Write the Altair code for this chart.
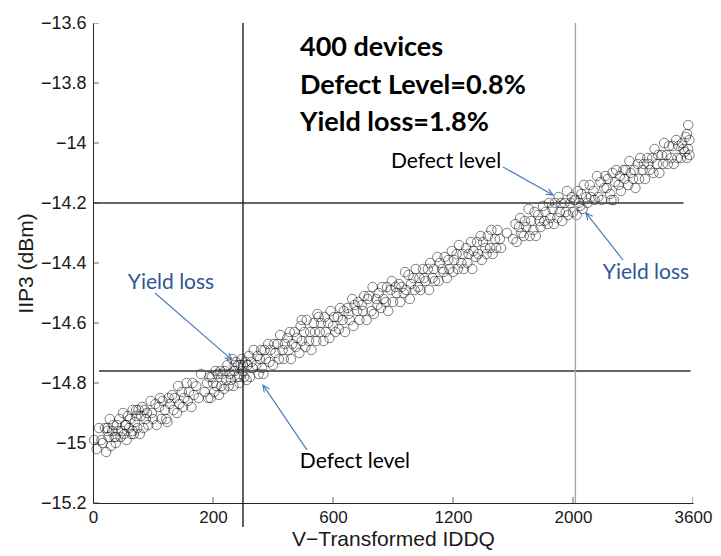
import math
import altair as alt
import pandas as pd

# Transformed-IDDQ axis: equally spaced positions carrying the IDDQ labels
x_tick_pos = [0, 1, 2, 3, 4, 5]
x_tick_labels = ["0", "200", "600", "1200", "2000", "3600"]
y_tick_values = [-15.2, -15.0, -14.8, -14.6, -14.4, -14.2, -14.0, -13.8, -13.6]

# Measured devices: position on the transformed IDDQ axis and IIP3 (dBm)
iddq_t = [
    0.01, 0.03, 0.05, 0.07, 0.08, 0.10, 0.11, 0.12, 0.13, 0.14,
    0.15, 0.16, 0.17, 0.18, 0.19, 0.20, 0.21, 0.22, 0.23, 0.24,
    0.25, 0.26, 0.27, 0.28, 0.29,
    0.30, 0.31, 0.32, 0.33, 0.34, 0.35, 0.36, 0.37, 0.38, 0.39,
    0.40, 0.41, 0.42, 0.43, 0.44, 0.45, 0.46, 0.48, 0.49, 0.50,
    0.52, 0.53, 0.55, 0.56, 0.57, 0.58, 0.60, 0.61, 0.63, 0.64,
    0.62, 0.66, 0.67, 0.68, 0.70, 0.71, 0.72, 0.74, 0.75, 0.76,
    0.78, 0.79, 0.80, 0.82, 0.83, 0.84, 0.86, 0.88, 0.90, 0.93,
    0.95, 0.96, 0.97, 0.98, 0.99,
    1.00, 1.01, 1.02, 1.03, 1.04, 1.05, 1.06, 1.07, 1.08, 1.09,
    1.10, 1.11, 1.12, 1.13, 1.14, 1.15, 1.16, 1.17, 1.18, 1.19,
    1.20, 1.21, 1.22, 1.23, 1.24, 1.245, 1.26, 1.27, 1.28, 1.29,
    1.30, 1.31, 1.32, 1.33, 1.34, 1.36, 1.37, 1.38, 1.39, 1.40,
    1.41, 1.42, 1.43, 1.44, 1.46, 1.47, 1.48, 1.50, 1.51, 1.52,
    1.54, 1.55, 1.56, 1.58, 1.59, 1.60, 1.62, 1.63, 1.64, 1.65,
    1.66, 1.68, 1.69, 1.70, 1.72, 1.73, 1.74, 1.76, 1.77, 1.78,
    1.80, 1.81, 1.82, 1.84, 1.85, 1.86, 1.88, 1.89, 1.90, 1.92,
    1.93, 1.94, 1.96, 1.97, 1.98, 2.00, 2.01, 2.02, 1.74, 1.87,
    2.04, 2.05, 2.06, 2.08, 2.09, 2.10, 2.12, 2.13, 2.14, 2.16,
    2.17, 2.18, 2.20, 2.21, 2.22, 2.24, 2.25, 2.26, 2.28, 2.29,
    2.30, 2.32, 2.33, 2.34, 2.36, 2.37, 2.38, 2.40, 2.41, 2.42,
    2.44, 2.45, 2.46, 2.48, 2.49, 2.50, 2.52, 2.53,
    2.55, 2.56, 2.57, 2.59, 2.60, 2.61, 2.63, 2.64, 2.65, 2.67,
    2.68, 2.69, 2.71, 2.72, 2.73, 2.75, 2.76, 2.77, 2.79, 2.80,
    2.81, 2.83, 2.84, 2.85, 2.87, 2.88, 2.89, 2.91, 2.92, 2.93,
    2.95, 2.96, 2.97, 2.99, 3.00, 3.01,
    3.03, 3.04, 3.05, 3.07, 3.08, 3.09, 3.11, 3.12, 3.13, 3.15,
    3.16, 3.17, 3.19, 3.20, 3.21, 3.23, 3.24, 3.25, 3.27, 3.28,
    3.29, 3.31, 3.32, 3.33, 3.35, 3.36, 3.37, 3.39, 3.40, 3.45,
    3.50, 3.52, 3.53, 3.55, 3.56, 3.57, 3.59, 3.60, 3.61, 3.63,
    3.64, 3.65, 3.67, 3.68, 3.69, 3.71, 3.72, 3.73, 3.75, 3.76,
    3.77, 3.79, 3.80, 3.81, 3.83, 3.84, 3.85, 3.87,
    3.88, 3.89, 3.90, 3.91, 3.93, 3.94, 3.95, 3.96, 3.98, 3.99,
    4.00, 4.01, 4.03, 4.04, 4.05, 4.07, 4.08, 4.09, 4.11, 4.12,
    4.14, 4.15, 4.17, 4.18, 4.20, 4.21, 4.23, 4.24, 4.26, 4.27,
    4.28, 4.29, 4.31, 4.32, 4.33, 4.34, 4.35, 4.36, 4.38, 4.39,
    4.40, 4.42, 4.43, 4.44, 4.46, 4.47, 4.48, 4.50, 4.51, 4.52,
    4.54, 4.55, 4.56, 4.58, 4.59, 4.60, 4.62, 4.63, 4.64, 4.66,
    4.67, 4.68, 4.70, 4.71, 4.72, 4.74, 4.75, 4.76, 4.78, 4.79,
    4.80, 4.82, 4.83, 4.84, 4.86, 4.87, 4.88, 4.90, 4.91, 4.92,
    4.93, 4.94, 4.95, 4.96, 4.96, 4.97, 4.97, 4.95,
    0.12, 0.19, 0.27, 0.33, 0.36, 1.18, 1.22, 1.25, 4.02, 4.06,
]
iip3 = [
    -14.99, -15.02, -14.95, -14.99, -15.00, -14.95, -15.03, -14.96, -14.98, -14.92,
    -15.01, -14.96, -14.94, -14.98, -15.00, -14.94, -14.96, -14.92, -14.98, -14.96,
    -14.90, -14.97, -14.94, -14.99, -14.91,
    -14.95, -14.92, -14.97, -14.89, -14.97, -14.93, -14.91, -14.95, -14.89, -14.97,
    -14.91, -14.88, -14.95, -14.89, -14.92, -14.90, -14.94, -14.86, -14.90, -14.92,
    -14.87, -14.94, -14.88, -14.85, -14.92, -14.86, -14.89, -14.92, -14.85, -14.87,
    -14.93, -14.84, -14.89, -14.85, -14.90, -14.81, -14.87, -14.83, -14.88, -14.85,
    -14.80, -14.86, -14.83, -14.88, -14.80, -14.84, -14.81, -14.85, -14.77, -14.83,
    -14.80, -14.85, -14.78, -14.85, -14.78,
    -14.80, -14.83, -14.76, -14.81, -14.77, -14.84, -14.76, -14.81, -14.77, -14.82,
    -14.76, -14.79, -14.74, -14.81, -14.77, -14.79, -14.72, -14.81, -14.76, -14.73,
    -14.78, -14.74, -14.80, -14.74, -14.72, -14.76, -14.78, -14.73, -14.79, -14.74,
    -14.71, -14.78, -14.73, -14.75, -14.69, -14.74, -14.71, -14.77, -14.72, -14.69,
    -14.75, -14.77, -14.69, -14.72, -14.67, -14.73, -14.69, -14.74, -14.67, -14.70,
    -14.67, -14.72, -14.64, -14.69, -14.72, -14.67, -14.65, -14.69, -14.63, -14.72,
    -14.67, -14.63, -14.68, -14.65, -14.70, -14.61, -14.66, -14.63, -14.68, -14.59,
    -14.66, -14.63, -14.69, -14.60, -14.63, -14.66, -14.58, -14.63, -14.60, -14.66,
    -14.58, -14.63, -14.60, -14.65, -14.56, -14.61, -14.58, -14.63, -14.59, -14.57,
    -14.58, -14.62, -14.55, -14.59, -14.56, -14.63, -14.55, -14.57, -14.59, -14.52,
    -14.61, -14.54, -14.56, -14.53, -14.59, -14.54, -14.56, -14.51, -14.59, -14.52,
    -14.51, -14.56, -14.48, -14.57, -14.52, -14.54, -14.50, -14.55, -14.48, -14.52,
    -14.53, -14.48, -14.56, -14.49, -14.46, -14.53, -14.48, -14.50,
    -14.47, -14.53, -14.48, -14.50, -14.43, -14.49, -14.44, -14.52, -14.47, -14.45,
    -14.49, -14.42, -14.48, -14.45, -14.49, -14.42, -14.45, -14.46, -14.42, -14.49,
    -14.40, -14.45, -14.42, -14.46, -14.38, -14.46, -14.40, -14.42, -14.43, -14.38,
    -14.45, -14.39, -14.42, -14.36, -14.43, -14.39,
    -14.37, -14.42, -14.34, -14.40, -14.37, -14.42, -14.35, -14.40, -14.37, -14.33,
    -14.42, -14.36, -14.38, -14.33, -14.37, -14.31, -14.39, -14.33, -14.35, -14.37,
    -14.31, -14.35, -14.29, -14.37, -14.32, -14.35, -14.29, -14.32, -14.35, -14.30,
    -14.32, -14.27, -14.33, -14.28, -14.25, -14.30, -14.31, -14.26, -14.28, -14.22,
    -14.31, -14.26, -14.29, -14.23, -14.31, -14.24, -14.26, -14.28, -14.21, -14.26,
    -14.23, -14.27, -14.20, -14.25, -14.22, -14.27, -14.20, -14.25,
    -14.18, -14.23, -14.20, -14.26, -14.20, -14.23, -14.16, -14.24, -14.20, -14.18,
    -14.23, -14.19, -14.24, -14.16, -14.20, -14.17, -14.22, -14.14, -14.18, -14.20,
    -14.14, -14.18, -14.16, -14.19, -14.11, -14.18, -14.13, -14.19, -14.15, -14.11,
    -14.15, -14.12, -14.17, -14.19, -14.10, -14.19, -14.13, -14.09, -14.14, -14.11,
    -14.16, -14.09, -14.12, -14.09, -14.14, -14.06, -14.10, -14.12, -14.09, -14.15,
    -14.07, -14.12, -14.05, -14.09, -14.07, -14.12, -14.05, -14.07, -14.09, -14.05,
    -14.10, -14.02, -14.07, -14.04, -14.10, -14.04, -14.07, -14.00, -14.04, -14.07,
    -14.01, -14.05, -14.01, -14.07, -13.99, -14.05, -14.01, -14.05, -14.00, -14.02,
    -14.03, -13.98, -14.05, -13.94, -14.02, -13.99, -14.04, -13.97,
    -14.95, -14.98, -14.94, -14.96, -14.89, -14.74, -14.78, -14.74, -14.19, -14.21,
]
assert len(iddq_t) == len(iip3)

# Test limits: IDDQ thresholds (vertical) and IIP3 spec limits (horizontal)
iddq_limits = [1.25, 4.02]
iddq_limit_ends = [-15.28, -15.2]
iddq_limit_colors = ["#1e1e1e", "#a8a8a8"]
iip3_limits = [-14.2, -14.76]
iip3_limit_start = [0.0, 0.05]
iip3_limit_end = [4.92, 4.98]

summary_lines = ["400 devices", "Defect Level=0.8%", "Yield loss=1.8%"]

W, H = 600, 480
X_DOMAIN = [0, 5]
Y_DOMAIN = [-15.2, -13.6]
PX_U = W / (X_DOMAIN[1] - X_DOMAIN[0])
PX_V = H / (Y_DOMAIN[1] - Y_DOMAIN[0])

xs = alt.Scale(domain=X_DOMAIN, nice=False, zero=False)
ys = alt.Scale(domain=Y_DOMAIN, nice=False, zero=False)

AXIS_FONT = "Liberation Sans"
NOTE_FONT = "Lato"
ARROW_BLUE = "#4a7ebb"
TEXT_BLUE = "#2f5597"

label_expr = "[" + ",".join(f"'{s}'" for s in x_tick_labels) + "][datum.value]"

# One axis definition per direction, shared by every layer so they merge cleanly
x_axis = alt.Axis(
    values=x_tick_pos, labelExpr=label_expr, title="V\u2212Transformed IDDQ",
    grid=False, ticks=False, tickSize=0, domainColor="#262626", labelFont=AXIS_FONT,
    labelFontSize=17, labelColor="#1a1a1a", labelPadding=6, labelFlush=False,
    labelOverlap=False, titleFont=AXIS_FONT, titleFontSize=21,
    titleFontWeight="normal", titleColor="#1a1a1a", titlePadding=3,
)
y_axis = alt.Axis(
    values=y_tick_values, format="~g", title="IIP3 (dBm)",
    grid=False, ticks=False, tickSize=0, domainColor="#262626", labelFont=AXIS_FONT,
    labelFontSize=18, labelColor="#1a1a1a", labelPadding=7, labelFlush=False,
    labelOverlap=False, titleFont=AXIS_FONT, titleFontSize=21,
    titleFontWeight="normal", titleColor="#1a1a1a", titlePadding=4,
)


def X(field):
    return alt.X(field, scale=xs, axis=x_axis)


def Y(field):
    return alt.Y(field, scale=ys, axis=y_axis)


points = pd.DataFrame({"u": iddq_t, "v": iip3})

scatter = alt.Chart(points).mark_point(
    shape="circle", filled=False, size=90, color="black", strokeWidth=1, opacity=0.5
).encode(x=X("u:Q"), y=Y("v:Q"))

# Inward-pointing axis ticks (the outer half is clipped by the plot edge)
xticks = alt.Chart(pd.DataFrame({"u": x_tick_pos, "v": [Y_DOMAIN[0]] * len(x_tick_pos)})).mark_tick(
    orient="vertical", size=12, thickness=1, color="#262626", clip=True
).encode(x=X("u:Q"), y=Y("v:Q"))
yticks = alt.Chart(pd.DataFrame({"v": y_tick_values, "u": [X_DOMAIN[0]] * len(y_tick_values)})).mark_tick(
    orient="horizontal", size=12, thickness=1, color="#262626", clip=True
).encode(x=X("u:Q"), y=Y("v:Q"))

hlines = alt.Chart(pd.DataFrame({
    "v": iip3_limits, "u": iip3_limit_start, "u1": iip3_limit_end,
})).mark_rule(color="#333333", strokeWidth=1.4).encode(
    x=X("u:Q"), x2="u1:Q", y=Y("v:Q"),
)

vlines = alt.Chart(pd.DataFrame({
    "u": iddq_limits, "v": [Y_DOMAIN[1]] * 2, "v1": iddq_limit_ends,
    "shade": iddq_limit_colors,
})).mark_rule(strokeWidth=1.4).encode(
    x=X("u:Q"), y=Y("v:Q"), y2="v1:Q",
    color=alt.Color("shade:N", scale=None, legend=None),
)

# Annotation arrows: tail (u, v) -> tip (u1, v1)
arrows = pd.DataFrame({
    "u": [3.417, 4.417, 0.517, 1.783],
    "v": [-14.08, -14.39, -14.50, -15.023],
    "u1": [3.833, 4.108, 1.158, 1.417],
    "v1": [-14.173, -14.233, -14.723, -14.807],
})
arrows["ang"] = [
    math.degrees(math.atan2((b - a) * PX_U, (d - c) * PX_V))
    for a, b, c, d in zip(arrows.u, arrows.u1, arrows.v, arrows.v1)
]
tips = arrows[["u1", "v1", "ang"]].rename(columns={"u1": "u", "v1": "v"})

shafts = alt.Chart(arrows).mark_rule(color=ARROW_BLUE, strokeWidth=1.2).encode(
    x=X("u:Q"), x2="u1:Q", y=Y("v:Q"), y2="v1:Q",
)
heads = alt.Chart(tips).mark_point(
    shape="M -0.6 1.3 L 0 0 L 0.6 1.3", filled=False, size=110,
    color=ARROW_BLUE, strokeWidth=1.2, opacity=1,
).encode(
    x=X("u:Q"), y=Y("v:Q"),
    angle=alt.Angle("ang:Q", scale=None),
)

summary = alt.Chart(pd.DataFrame({
    "txt": summary_lines, "u": [1.725] * 3, "v": [-13.683, -13.81, -13.933],
})).mark_text(
    align="left", baseline="middle", font=NOTE_FONT, fontWeight="bold",
    fontSize=27, color="black",
).encode(x=X("u:Q"), y=Y("v:Q"), text="txt:N")

notes = alt.Chart(pd.DataFrame({
    "txt": ["Defect level", "Yield loss", "Yield loss", "Defect level"],
    "u": [2.942, 4.608, 0.65, 2.183],
    "v": [-14.063, -14.433, -14.467, -15.063],
    "col": ["#000000", TEXT_BLUE, TEXT_BLUE, "#000000"],
})).mark_text(
    align="center", baseline="middle", font=NOTE_FONT, fontSize=21,
).encode(
    x=X("u:Q"), y=Y("v:Q"), text="txt:N",
    color=alt.Color("col:N", scale=None, legend=None),
)

chart = alt.layer(
    scatter, xticks, yticks, hlines, vlines, shafts, heads, summary, notes
).properties(
    width=W, height=H,
    autosize=alt.AutoSizeParams(type="none"),
    padding={"left": 93, "top": 23, "right": 28, "bottom": 53},
    background="white",
).configure_view(stroke=None)

chart.save("out.html", embed_options={"renderer": "svg", "actions": False})
